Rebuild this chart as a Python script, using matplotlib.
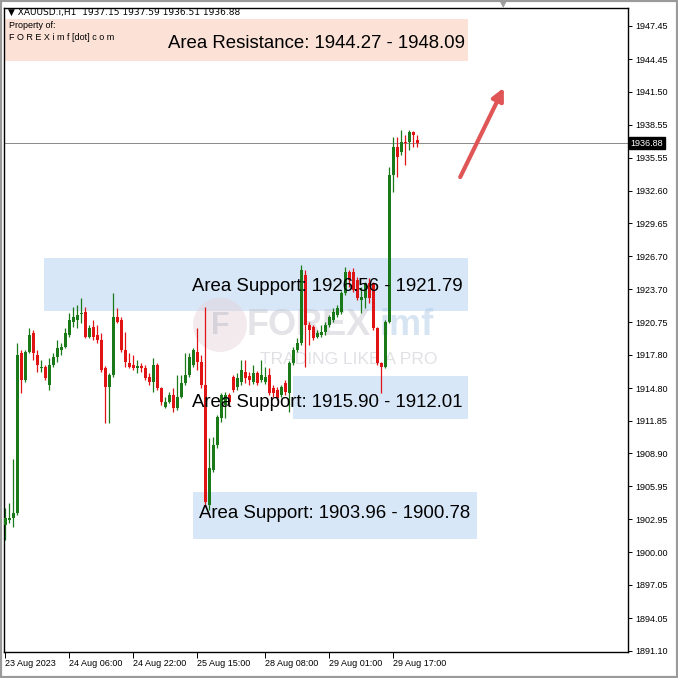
import numpy as np
import matplotlib.pyplot as plt
import matplotlib.transforms as mtransforms
from matplotlib.patches import Rectangle, Ellipse

# --- data ---
symbol = "XAUUSD.i,H1"
ohlc_header = "1937.15 1937.59 1936.51 1936.88"

opens = [1902.45, 1902.91, 1903.09, 1903.54, 1917.96, 1915.53, 1918.05, 1919.77, 1917.78, 1916.61,
         1916.70, 1915.08, 1916.88, 1917.60, 1918.23, 1918.51, 1919.59, 1920.76, 1920.94, 1921.48,
         1921.66, 1919.41, 1920.31, 1919.59, 1919.14, 1916.61, 1914.90, 1915.98, 1921.21, 1920.94,
         1918.23, 1917.06, 1916.88, 1916.61, 1916.79, 1916.61, 1915.80, 1915.35, 1916.88, 1914.81,
         1913.09, 1913.55, 1914.18, 1913.00, 1914.00, 1915.26, 1915.98, 1916.88, 1918.05, 1917.15,
         1915.08, 1904.26, 1907.41, 1909.67, 1912.10, 1913.28, 1914.18, 1915.80, 1914.90, 1915.35,
         1916.25, 1915.89, 1915.35, 1916.16, 1915.53, 1915.35, 1915.98, 1914.81, 1914.63, 1914.18,
         1915.26, 1914.36, 1917.06, 1918.23, 1918.87, 1925.00, 1920.49, 1920.31, 1919.41, 1919.59,
         1919.86, 1920.49, 1920.94, 1921.39, 1921.66, 1923.37, 1925.27, 1925.27, 1924.55, 1922.74,
         1922.92, 1924.28, 1924.28, 1920.22, 1917.06, 1916.70, 1920.76, 1934.01, 1936.54, 1936.09,
         1936.99, 1936.99, 1937.89, 1937.15]
highs = [1903.99, 1904.44, 1908.41, 1918.87, 1918.23, 1918.23, 1920.22, 1920.04, 1918.23, 1917.33,
         1916.88, 1917.51, 1917.96, 1919.14, 1918.87, 1920.22, 1921.57, 1922.11, 1922.29, 1922.92,
         1922.11, 1920.49, 1920.94, 1920.49, 1919.77, 1916.79, 1916.16, 1923.37, 1922.02, 1921.21,
         1919.86, 1917.96, 1917.78, 1917.33, 1917.06, 1916.88, 1916.16, 1917.51, 1917.06, 1914.90,
         1914.00, 1914.45, 1914.81, 1915.98, 1915.98, 1917.96, 1917.96, 1918.42, 1920.22, 1917.78,
         1922.11, 1910.30, 1910.39, 1912.37, 1914.36, 1914.45, 1914.36, 1915.98, 1916.16, 1917.33,
         1917.33, 1916.25, 1916.88, 1916.34, 1917.33, 1916.70, 1916.61, 1915.08, 1914.90, 1915.08,
         1915.53, 1917.24, 1918.51, 1919.32, 1925.90, 1925.45, 1920.76, 1920.49, 1920.04, 1920.49,
         1920.76, 1921.39, 1922.02, 1922.29, 1923.55, 1925.72, 1925.45, 1925.63, 1924.82, 1923.92,
         1924.37, 1924.73, 1924.37, 1920.31, 1917.15, 1920.94, 1934.74, 1937.44, 1937.44, 1938.07,
         1937.62, 1938.07, 1937.98, 1937.59]
lows = [1901.10, 1902.64, 1902.27, 1903.36, 1914.36, 1915.35, 1917.96, 1917.33, 1916.25, 1916.25,
        1915.53, 1914.63, 1916.70, 1917.15, 1917.78, 1918.42, 1919.41, 1920.31, 1920.22, 1920.67,
        1919.32, 1919.32, 1919.14, 1918.87, 1916.25, 1911.65, 1911.65, 1915.80, 1920.67, 1918.05,
        1916.70, 1916.61, 1916.43, 1916.16, 1916.25, 1915.53, 1915.08, 1914.45, 1914.63, 1913.28,
        1913.00, 1913.46, 1912.64, 1912.82, 1913.91, 1915.08, 1915.80, 1916.70, 1916.43, 1914.81,
        1904.08, 1903.81, 1907.23, 1909.40, 1911.74, 1912.10, 1913.37, 1914.45, 1914.63, 1915.08,
        1915.26, 1915.08, 1915.17, 1915.08, 1915.35, 1915.17, 1914.18, 1914.00, 1913.73, 1914.00,
        1914.18, 1912.64, 1916.88, 1918.05, 1918.69, 1916.70, 1918.69, 1919.14, 1919.32, 1919.41,
        1919.59, 1920.31, 1920.76, 1921.21, 1921.48, 1923.19, 1923.92, 1923.46, 1922.74, 1921.57,
        1922.02, 1922.47, 1920.04, 1916.88, 1914.36, 1916.61, 1920.67, 1932.48, 1933.83, 1935.82,
        1934.92, 1936.27, 1936.54, 1936.51]
closes = [1903.09, 1903.09, 1903.54, 1917.78, 1915.53, 1918.05, 1919.59, 1917.96, 1916.88, 1916.70,
          1915.71, 1916.88, 1917.60, 1918.42, 1918.51, 1919.77, 1920.94, 1921.21, 1921.39, 1921.57,
          1919.41, 1920.22, 1919.41, 1919.14, 1916.43, 1914.90, 1915.98, 1921.21, 1920.76, 1918.23,
          1917.15, 1916.70, 1916.61, 1916.79, 1916.61, 1915.71, 1915.35, 1916.88, 1914.81, 1913.55,
          1913.55, 1914.18, 1913.00, 1914.00, 1915.26, 1915.98, 1917.60, 1918.23, 1917.15, 1915.08,
          1904.53, 1907.59, 1909.67, 1912.19, 1914.18, 1914.18, 1913.55, 1914.63, 1915.71, 1916.43,
          1915.71, 1915.53, 1916.16, 1915.26, 1915.98, 1915.80, 1914.36, 1914.36, 1913.91, 1914.90,
          1914.45, 1917.06, 1918.23, 1918.87, 1925.45, 1920.49, 1920.04, 1919.32, 1919.77, 1919.86,
          1920.49, 1921.21, 1921.66, 1922.02, 1923.37, 1925.27, 1924.55, 1923.64, 1922.92, 1923.01,
          1924.28, 1922.92, 1920.22, 1917.06, 1916.70, 1920.76, 1934.01, 1936.54, 1935.64, 1936.99,
          1936.90, 1937.89, 1937.62, 1936.88]

time_labels = ["23 Aug 2023", "24 Aug 06:00", "24 Aug 22:00", "25 Aug 15:00",
               "28 Aug 08:00", "29 Aug 01:00", "29 Aug 17:00"]
time_ticks = [0, 16, 32, 48, 65, 81, 97]
price_ticks = [1947.45, 1944.45, 1941.50, 1938.55, 1935.55, 1932.60, 1929.65, 1926.70, 1923.70,
               1920.75, 1917.80, 1914.80, 1911.85, 1908.90, 1905.95, 1902.95, 1900.00, 1897.05,
               1894.05, 1891.10]
last_price = 1936.88

# zone labels (as written on the chart) and the drawn rectangles
zone_titles = ["Area Resistance", "Area Support", "Area Support", "Area Support"]
zone_first = [1944.27, 1926.56, 1915.90, 1903.96]
zone_second = [1948.09, 1921.79, 1912.01, 1900.78]
box_bottom = [1944.27, 1921.79, 1912.01, 1901.19]
box_top = [1948.09, 1926.56, 1915.90, 1905.43]

# --- look ---
W = 678
fig = plt.figure(figsize=(6.78, 6.78), dpi=100)
fig.patch.set_facecolor("white")
ax = fig.add_axes([4 / W, 26 / W, 624 / W, 644 / W])
ax.set_xlim(-0.25, 155.75)
ax.set_ylim(1891.0, 1949.07)

# zones: (x0, x1) in bars, colour, label centre (x, y)
zone_style = [(-0.25, 115.75, "#fbe1d6", 78.0, 1945.83),
              (9.75, 115.75, "#d7e7f7", 80.5, 1923.92),
              (72.0, 115.75, "#d7e7f7", 80.5, 1913.46),
              (47.0, 118.0, "#d7e7f7", 82.5, 1903.45)]
for i, (x0, x1, col, xc, yc) in enumerate(zone_style):
    ax.add_patch(Rectangle((x0, box_bottom[i]), x1 - x0, box_top[i] - box_bottom[i],
                           fc=col, ec="none", zorder=0))
    ax.text(xc, yc, f"{zone_titles[i]}: {zone_first[i]:.2f} - {zone_second[i]:.2f}",
            ha="center", va="center", fontsize=13.4, family="Liberation Sans",
            color="black", zorder=6)

# watermark
ax.add_patch(Ellipse((53.75, 1920.5), 13.5, 4.9, fc="#e6d2da", ec="none", alpha=0.45, zorder=1))
ax.text(53.75, 1920.4, "F", ha="center", va="center", fontsize=22, fontweight="bold",
        color="#bdbdc9", alpha=0.5, zorder=1, family="Liberation Sans")
ax.text(60.5, 1920.4, "FOREX", ha="left", va="center", fontsize=26, fontweight="bold",
        color="#c2c2cc", alpha=0.45, zorder=1, family="Liberation Sans")
ax.text(93.5, 1920.4, "imf", ha="left", va="center", fontsize=26, fontweight="bold",
        color="#b0cce8", alpha=0.5, zorder=1, family="Liberation Sans")
ax.text(86.0, 1917.4, "TRADING LIKE A PRO", ha="center", va="center", fontsize=12.5,
        color="#cdcdd5", alpha=0.6, zorder=1, family="Liberation Sans")

# candles
x = np.arange(len(opens))
o = np.array(opens)
c = np.array(closes)
colors = np.where(c >= o, "#1a7a1a", "#e01414")
ax.vlines(x, lows, highs, colors=colors, lw=0.9, zorder=2)
body = np.maximum(np.abs(c - o), 0.09)
ax.bar(x, body, bottom=np.minimum(o, c), width=0.75, color=colors, lw=0, zorder=3)

# current price line + tag
ax.axhline(last_price, color="#8a8a8a", lw=0.7, zorder=1)
trans = mtransforms.blended_transform_factory(ax.transAxes, ax.transData)
ax.text(1.004, last_price, f"{last_price:.2f}", transform=trans, ha="left", va="center",
        fontsize=6.5, color="white", family="Liberation Sans",
        bbox=dict(fc="black", ec="black", pad=1.2), zorder=7, clip_on=False)

# arrow
ax.annotate("", xy=(125.0, 1942.1), xytext=(113.5, 1933.6),
            arrowprops=dict(arrowstyle="-|>", color="#e05656", lw=3, mutation_scale=18))

# axes / ticks
for s in ax.spines.values():
    s.set_color("black")
    s.set_linewidth(1)
ax.yaxis.tick_right()
ax.set_yticks(price_ticks)
ax.set_yticklabels([f"{p:.2f}" for p in price_ticks])
ax.tick_params(axis="y", length=3, width=0.7, pad=2, labelsize=6.5)
ax.set_xticks(time_ticks)
ax.set_xticklabels(time_labels, ha="left")
ax.tick_params(axis="x", length=4, width=0.7, pad=1, labelsize=6.5)
for lab in ax.get_xticklabels() + ax.get_yticklabels():
    lab.set_family("Liberation Sans")

# header texts
fig.text(8 / W, 1 - 12 / W, "\u25bc " + symbol + "  " + ohlc_header, fontsize=6.5,
         va="center", ha="left", family="DejaVu Sans")
fig.text(9 / W, 1 - 26 / W, "Property of:", fontsize=6.5, va="center", ha="left",
         family="Liberation Sans")
fig.text(9 / W, 1 - 38 / W, "F O R E X i m f [dot] c o m", fontsize=6.5, va="center",
         ha="left", family="Liberation Sans")

# chart shift marker and window frame
fig.text(503 / W, 1 - 5 / W, "\u25bc", fontsize=6, color="#a0a0a0", ha="center", va="center")
fig.patches.append(Rectangle((0, 0), 1, 1, transform=fig.transFigure, fill=False,
                             ec="#9a9a9a", lw=3))

fig.savefig("out.png", dpi=100)
